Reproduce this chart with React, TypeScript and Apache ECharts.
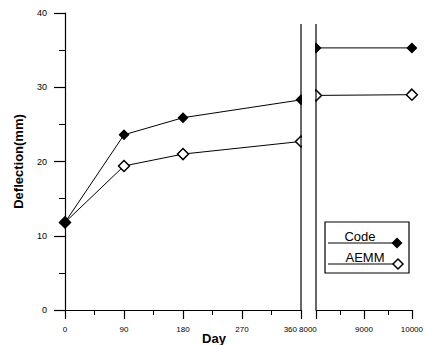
import React, { useEffect, useRef } from "react";
import * as echarts from "echarts";

const leftDays = [0, 90, 180, 360];
const rightDays = [8000, 10000];
const codeLeft = [11.8, 23.6, 25.9, 28.3];
const codeRight = [35.3, 35.3];
const aemmLeft = [11.8, 19.4, 21.0, 22.7];
const aemmRight = [28.9, 29.0];
const seriesNames = ["Code", "AEMM"];
const breakLabels = ["360", "8000"];
const xTitle = "Day";
const yTitle = "Deflection(mm)";

const FONT = "'Liberation Sans', Arial, sans-serif";

function diamond(cx: number, cy: number, r: number) {
  return [
    [cx, cy - r],
    [cx + r, cy],
    [cx, cy + r],
    [cx - r, cy],
  ];
}

export default function App() {
  const ref = useRef<HTMLDivElement>(null);
  useEffect(() => {
    if (!ref.current) return;
    const chart = echarts.init(ref.current, undefined, { renderer: "svg" });
    const pair = (xs: number[], ys: number[]) => xs.map((x, i) => [x, ys[i]]);
    const plain = (v: number) => String(v);
    const axisCommon = {
      axisLine: { show: true, onZero: false, lineStyle: { color: "#000", width: 1.2 } },
      splitLine: { show: false },
      axisLabel: { color: "#000", fontSize: 9, fontFamily: FONT, formatter: plain },
    };
    const xTick = {
      axisTick: { show: true, length: 9, lineStyle: { color: "#000", width: 1.2 } },
      minorTick: { show: true, splitNumber: 2, length: 5, lineStyle: { color: "#000", width: 1 } },
    };
    const codeStyle = {
      type: "line" as const,
      symbol: "diamond",
      symbolSize: 11,
      clip: false,
      lineStyle: { color: "#000", width: 1 },
      itemStyle: { color: "#000" },
      z: 3,
    };
    const aemmStyle = {
      type: "line" as const,
      symbol: "diamond",
      symbolSize: 11,
      clip: false,
      lineStyle: { color: "#000", width: 1 },
      itemStyle: { color: "#fff", borderColor: "#000", borderWidth: 1.5 },
      z: 2,
    };
    chart.setOption({
      animation: false,
      backgroundColor: "#fff",
      grid: [
        { left: 65, top: 13, width: 236, height: 297 },
        { left: 316, top: 13, width: 96, height: 297 },
      ],
      xAxis: [
        {
          type: "value",
          gridIndex: 0,
          min: 0,
          max: 360,
          interval: 90,
          ...axisCommon,
          ...xTick,
          axisLabel: { ...axisCommon.axisLabel, fontSize: 8, margin: 15, showMaxLabel: false },
        },
        {
          type: "value",
          gridIndex: 1,
          min: 8000,
          max: 10000,
          interval: 1000,
          ...axisCommon,
          ...xTick,
          axisLabel: { ...axisCommon.axisLabel, fontSize: 8, margin: 15, showMinLabel: false },
        },
      ],
      yAxis: [
        {
          type: "value",
          gridIndex: 0,
          min: 0,
          max: 40,
          interval: 10,
          ...axisCommon,
          axisTick: { show: true, length: 11, lineStyle: { color: "#000", width: 1.2 } },
          minorTick: { show: true, splitNumber: 2, length: 6, lineStyle: { color: "#000", width: 1 } },
          axisLabel: { ...axisCommon.axisLabel, margin: 18 },
          name: yTitle,
          nameLocation: "middle",
          nameRotate: 90,
          nameGap: 40,
          nameTextStyle: { color: "#000", fontSize: 13, fontWeight: "bold", fontFamily: FONT },
        },
        {
          type: "value",
          gridIndex: 1,
          min: 0,
          max: 40,
          interval: 10,
          show: false,
        },
      ],
      series: [
        { ...aemmStyle, name: seriesNames[1], xAxisIndex: 0, yAxisIndex: 0, data: pair(leftDays, aemmLeft) },
        { ...codeStyle, name: seriesNames[0], xAxisIndex: 0, yAxisIndex: 0, data: pair(leftDays, codeLeft) },
        { ...aemmStyle, name: seriesNames[1], xAxisIndex: 1, yAxisIndex: 1, data: pair(rightDays, aemmRight) },
        { ...codeStyle, name: seriesNames[0], xAxisIndex: 1, yAxisIndex: 1, data: pair(rightDays, codeRight) },
      ],
      graphic: [
        { type: "rect", z: 100, shape: { x: 302, y: 10, width: 13, height: 299 }, style: { fill: "#fff" } },
        { type: "line", z: 101, shape: { x1: 301, y1: 24, x2: 301, y2: 310 }, style: { stroke: "#000", lineWidth: 1.2 } },
        { type: "line", z: 101, shape: { x1: 316, y1: 24, x2: 316, y2: 310 }, style: { stroke: "#000", lineWidth: 1.2 } },
        {
          type: "text",
          z: 101,
          x: 297,
          y: 329,
          style: { text: breakLabels[0], fill: "#000", font: `8px ${FONT}`, align: "right", verticalAlign: "middle" },
        },
        {
          type: "text",
          z: 101,
          x: 299,
          y: 329,
          style: { text: breakLabels[1], fill: "#000", font: `8px ${FONT}`, align: "left", verticalAlign: "middle" },
        },
        {
          type: "text",
          z: 101,
          x: 214,
          y: 332,
          style: { text: xTitle, fill: "#000", font: `bold 13px ${FONT}`, align: "center", verticalAlign: "top" },
        },
        { type: "rect", z: 101, shape: { x: 325, y: 222, width: 84, height: 51 }, style: { fill: "#fff", stroke: "#000", lineWidth: 1.2 } },
        {
          type: "text",
          z: 102,
          x: 360,
          y: 236,
          style: { text: seriesNames[0], fill: "#000", font: `13px ${FONT}`, align: "center", verticalAlign: "middle" },
        },
        { type: "line", z: 102, shape: { x1: 328, y1: 243, x2: 397, y2: 243 }, style: { stroke: "#000", lineWidth: 1 } },
        { type: "polygon", z: 103, shape: { points: diamond(397, 243, 5.5) }, style: { fill: "#000" } },
        {
          type: "text",
          z: 102,
          x: 365,
          y: 257,
          style: { text: seriesNames[1], fill: "#000", font: `13px ${FONT}`, align: "center", verticalAlign: "middle" },
        },
        { type: "line", z: 102, shape: { x1: 328, y1: 264, x2: 398, y2: 264 }, style: { stroke: "#000", lineWidth: 1 } },
        { type: "polygon", z: 103, shape: { points: diamond(398, 264, 5) }, style: { fill: "#fff", stroke: "#000", lineWidth: 1.5 } },
      ],
    });
    return () => chart.dispose();
  }, []);
  return <div ref={ref} style={{ width: 426, height: 345, position: "absolute", left: 0, top: 0 }} />;
}
